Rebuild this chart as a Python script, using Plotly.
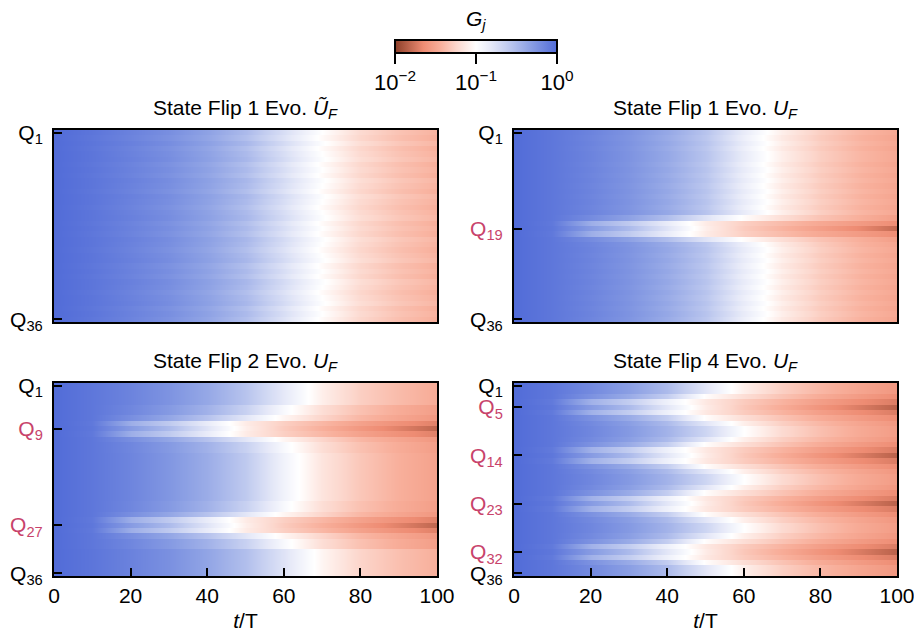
import plotly.graph_objects as go

# ---------------- data (log10 G_j) ----------------
T_POINTS = [0, 10, 20, 30, 40, 50, 60, 70, 80, 90, 100]
QUBITS = list(range(1, 37))

# Panel A: State Flip 1 Evo. U~_F
PROF_A = {
    "a1": [0.00, -0.06, -0.14, -0.22, -0.34, -0.50, -0.74, -1.00, -1.22, -1.34, -1.42],
    "a2": [0.00, -0.07, -0.15, -0.24, -0.36, -0.53, -0.77, -1.03, -1.24, -1.36, -1.44],
    "a3": [0.00, -0.06, -0.13, -0.21, -0.33, -0.48, -0.72, -0.98, -1.20, -1.32, -1.40],
}
ROWS_A = ["a1", "a2", "a3", "a2", "a1", "a3", "a2", "a1", "a2", "a3", "a1", "a2",
          "a3", "a1", "a2", "a1", "a3", "a2", "a1", "a2", "a3", "a1", "a2", "a1",
          "a3", "a2", "a1", "a2", "a3", "a1", "a2", "a1", "a3", "a2", "a1", "a2"]

# Panel B: State Flip 1 Evo. U_F (flip at Q19)
PROF_B = {
    "b1": [0.00, -0.07, -0.15, -0.25, -0.38, -0.56, -0.84, -1.10, -1.28, -1.40, -1.48],
    "b2": [0.00, -0.07, -0.16, -0.26, -0.40, -0.58, -0.87, -1.13, -1.30, -1.42, -1.50],
    "n2": [0.00, -0.07, -0.20, -0.34, -0.52, -0.78, -1.02, -1.20, -1.34, -1.44, -1.54],
    "n1": [0.00, -0.08, -0.42, -0.60, -0.84, -1.12, -1.28, -1.38, -1.48, -1.56, -1.64],
    "fl": [0.00, -0.07, -0.30, -0.50, -0.78, -1.10, -1.30, -1.42, -1.54, -1.66, -1.80],
}
ROWS_B = ["b1", "b2", "b1", "b2", "b1", "b1", "b2", "b1", "b2", "b1", "b2", "b1",
          "b2", "b1", "b2", "b1", "n2", "n1", "fl", "n1", "n2", "b2", "b1", "b2",
          "b1", "b2", "b1", "b2", "b1", "b2", "b1", "b2", "b1", "b2", "b1", "b2"]

# Panel C: State Flip 2 Evo. U_F (flips at Q9, Q27)
PROF_C = {
    "top": [0.00, -0.07, -0.15, -0.25, -0.38, -0.56, -0.82, -1.10, -1.28, -1.38, -1.46],
    "bot": [0.00, -0.06, -0.14, -0.23, -0.36, -0.53, -0.78, -1.06, -1.25, -1.36, -1.44],
    "mid": [0.00, -0.07, -0.16, -0.27, -0.41, -0.60, -0.90, -1.16, -1.32, -1.44, -1.52],
    "nr":  [0.00, -0.07, -0.17, -0.29, -0.44, -0.65, -0.95, -1.20, -1.35, -1.46, -1.54],
    "n2":  [0.00, -0.07, -0.22, -0.37, -0.55, -0.80, -1.06, -1.25, -1.40, -1.50, -1.58],
    "n1":  [0.00, -0.08, -0.42, -0.60, -0.84, -1.12, -1.28, -1.40, -1.52, -1.62, -1.70],
    "fl":  [0.00, -0.07, -0.30, -0.50, -0.78, -1.10, -1.30, -1.44, -1.58, -1.70, -1.82],
}
ROWS_C = ["top", "top", "top", "top", "nr", "nr", "n2", "n1", "fl", "n1", "n2", "nr",
          "nr", "mid", "mid", "mid", "mid", "mid", "mid", "mid", "mid", "mid", "nr", "nr",
          "n2", "n1", "fl", "n1", "n2", "nr", "nr", "bot", "bot", "bot", "bot", "bot"]

# Panel D: State Flip 4 Evo. U_F (flips at Q5, Q14, Q23, Q32)
PROF_D = {
    "far": [0.00, -0.07, -0.17, -0.29, -0.45, -0.68, -1.00, -1.22, -1.36, -1.47, -1.55],
    "mid": [0.00, -0.07, -0.19, -0.32, -0.50, -0.80, -1.10, -1.28, -1.40, -1.50, -1.58],
    "n2":  [0.00, -0.07, -0.24, -0.40, -0.62, -1.02, -1.20, -1.34, -1.46, -1.56, -1.64],
    "n1":  [0.00, -0.09, -0.44, -0.62, -0.88, -1.14, -1.30, -1.42, -1.54, -1.64, -1.72],
    "fl":  [0.00, -0.07, -0.30, -0.50, -0.80, -1.12, -1.32, -1.46, -1.60, -1.72, -1.84],
}
ROWS_D = ["mid", "mid", "n2", "n1", "fl", "n1", "n2", "mid", "far", "far", "mid", "n2",
          "n1", "fl", "n1", "n2", "mid", "far", "far", "mid", "n2", "n1", "fl", "n1",
          "n2", "mid", "far", "far", "mid", "n2", "n1", "fl", "n1", "n2", "mid", "mid"]

TITLES = ["State Flip 1 Evo. <i>Ũ<sub>F</sub></i>", "State Flip 1 Evo. <i>U<sub>F</sub></i>",
          "State Flip 2 Evo. <i>U<sub>F</sub></i>", "State Flip 4 Evo. <i>U<sub>F</sub></i>"]
YTICKS = [[1, 36], [1, 19, 36], [1, 9, 27, 36], [1, 5, 14, 23, 32, 36]]
HIGHLIGHT = [[], [19], [9, 27], [5, 14, 23, 32]]
X_TICKS = [0, 20, 40, 60, 80, 100]
CBAR_TICKS = [-2, -1, 0]
CBAR_LABELS = ["10<sup>−2</sup>", "10<sup>−1</sup>", "10<sup>0</sup>"]

# ---------------- styling ----------------
W, H = 914, 633
FONT = "Liberation Sans, Arial, sans-serif"
FS = 21
HL_COLOR = "#c8436b"
COLORSCALE = [
    [0.000, "rgb(140,62,40)"],
    [0.175, "rgb(238,140,115)"],
    [0.280, "rgb(248,175,155)"],
    [0.380, "rgb(252,215,205)"],
    [0.500, "rgb(255,255,255)"],
    [0.590, "rgb(230,233,248)"],
    [0.690, "rgb(195,205,240)"],
    [0.835, "rgb(140,160,228)"],
    [1.000, "rgb(82,108,216)"],
]

# panel boxes in pixels: (left, right, top, bottom)
BOXES = [(54, 437, 130, 322), (514, 897, 130, 322),
         (54, 437, 383, 576), (514, 897, 383, 576)]

panels = [(PROF_A, ROWS_A), (PROF_B, ROWS_B), (PROF_C, ROWS_C), (PROF_D, ROWS_D)]

fig = go.Figure()
layout = dict(width=W, height=H,
              margin=dict(l=0, r=0, t=0, b=0, autoexpand=False),
              paper_bgcolor="white", plot_bgcolor="white",
              font=dict(family=FONT, size=FS, color="black"))
annotations = []

for i, ((prof, rows), box) in enumerate(zip(panels, BOXES)):
    n = "" if i == 0 else str(i + 1)
    # duplicate each row at its two edges so smoothing only acts along time
    y_render, z_render = [], []
    for q, name in zip(QUBITS, rows):
        y_render += [q - 0.47, q + 0.47]
        z_render += [prof[name], prof[name]]
    fig.add_trace(go.Heatmap(
        x=T_POINTS, y=y_render, z=z_render, coloraxis="coloraxis",
        zsmooth="best", xaxis="x" + n, yaxis="y" + n, hoverinfo="skip"))

    l, r, t, b = box
    bottom_row = i >= 2
    layout["xaxis" + n] = dict(
        domain=[l / W, r / W], anchor="y" + n, range=[0, 100],
        showline=True, linecolor="black", linewidth=2, mirror=True,
        ticks="inside" if bottom_row else "", ticklen=8, tickwidth=1.5,
        tickcolor="black", tickvals=X_TICKS, showticklabels=bottom_row,
        ticklabeloverflow="allow",
        tickfont=dict(size=FS), showgrid=False, zeroline=False, automargin=False,
        title=dict(text="<i>t</i>/T", font=dict(size=FS), standoff=7) if bottom_row else None)
    ticktext = []
    for q in YTICKS[i]:
        lab = "Q<sub>%d</sub>" % q
        if q in HIGHLIGHT[i]:
            lab = '<span style="color:%s">%s</span>' % (HL_COLOR, lab)
        ticktext.append(lab)
    layout["yaxis" + n] = dict(
        domain=[1 - b / H, 1 - t / H], anchor="x" + n, range=[36.5, 0.5],
        showline=True, linecolor="black", linewidth=2, mirror=True,
        ticks="inside", ticklen=8, tickwidth=1.5, tickcolor="black",
        tickvals=YTICKS[i], ticktext=ticktext, tickfont=dict(size=FS),
        ticklabeloverflow="allow",
        ticklabelstandoff=5, showgrid=False, zeroline=False, automargin=False)
    annotations.append(dict(
        text=TITLES[i], xref="paper", yref="paper", x=(l + r) / 2 / W,
        y=1 - (t - 6) / H, xanchor="center", yanchor="bottom", showarrow=False,
        font=dict(size=FS, color="black")))

annotations.append(dict(text="<i>G<sub>j</sub></i>", xref="paper", yref="paper",
                        x=476 / W, y=1 - 20 / H, xanchor="center", yanchor="middle",
                        showarrow=False, font=dict(size=FS, color="black")))

layout["coloraxis"] = dict(
    cmin=-2, cmax=0, colorscale=COLORSCALE,
    colorbar=dict(orientation="h", x=476 / W, xanchor="center",
                  y=1 - 40 / H, yanchor="top", len=162 / W, lenmode="fraction",
                  thickness=13, thicknessmode="pixels", outlinewidth=2,
                  outlinecolor="black", tickvals=CBAR_TICKS, ticktext=CBAR_LABELS,
                  ticks="outside", ticklen=10, tickwidth=1.5, tickcolor="black",
                  tickfont=dict(size=22), xpad=0, ypad=0))
layout["annotations"] = annotations
fig.update_layout(**layout)
fig.write_html("out.html")
